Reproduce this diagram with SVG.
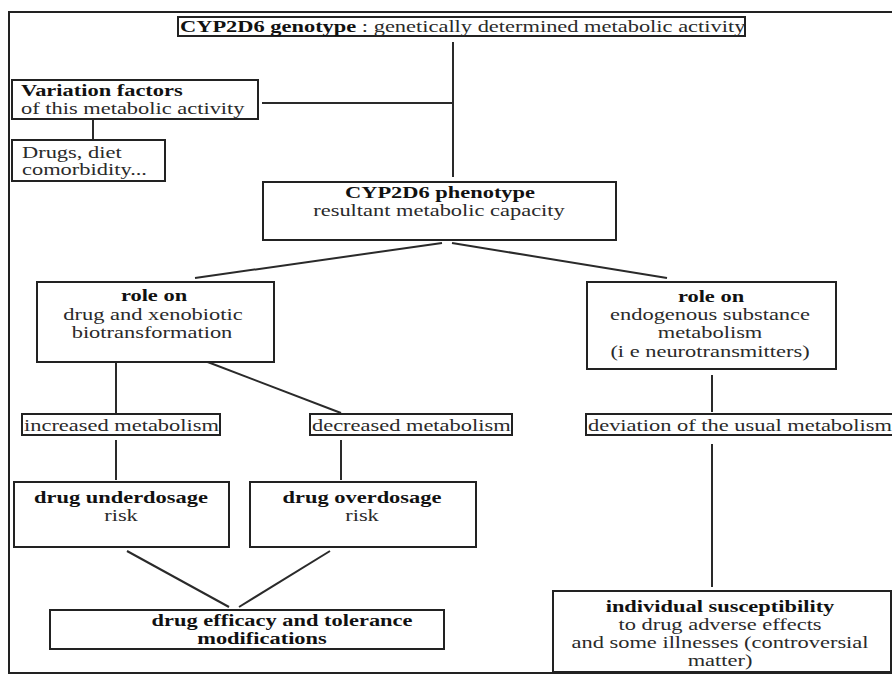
<svg xmlns="http://www.w3.org/2000/svg" width="892" height="675" viewBox="0 0 892 675">
<style>
.box{fill:#fff;stroke:#222;stroke-width:2}
.frame{fill:none;stroke:#222;stroke-width:2}
.ln{stroke:#2a2a2a;stroke-width:2;fill:none}
text{font-family:"Liberation Serif","Times New Roman",serif;font-size:17px;fill:#2a2a2a}
.b{font-weight:bold;fill:#111}
.m{text-anchor:middle}
</style>
<rect width="892" height="675" fill="#fff"/>
<path class="frame" d="M900,12 H9 V673 H900"/>
<g id="connectors">
<line class="ln" x1="453" y1="42" x2="453" y2="177"/>
<line class="ln" x1="262" y1="103" x2="453" y2="103"/>
<line class="ln" x1="93" y1="119" x2="93" y2="140"/>
<line class="ln" x1="442" y1="243" x2="195" y2="278"/>
<line class="ln" x1="452" y1="243" x2="667" y2="278"/>
<line class="ln" x1="116" y1="362" x2="116" y2="413"/>
<line class="ln" x1="205" y1="361" x2="341" y2="413"/>
<line class="ln" x1="712" y1="375" x2="712" y2="412"/>
<line class="ln" x1="116" y1="440" x2="116" y2="480"/>
<line class="ln" x1="341" y1="440" x2="341" y2="480"/>
<line class="ln" x1="712" y1="444" x2="712" y2="587"/>
<line class="ln" x1="127" y1="551" x2="229" y2="607"/>
<line class="ln" x1="330" y1="551" x2="239" y2="607"/>
</g>
<g id="genotype">
<rect class="box" x="178" y="17" width="567" height="19"/>
<text transform="translate(180,32) scale(1.32,1)"><tspan class="b">CYP2D6 genotype</tspan> : genetically determined metabolic activity</text>
</g>
<g id="variation">
<rect class="box" x="12" y="80" width="246" height="39"/>
<text class="b" transform="translate(21,96) scale(1.32,1)">Variation factors</text>
<text transform="translate(21,114) scale(1.32,1)">of this metabolic activity</text>
</g>
<g id="drugs">
<rect class="box" x="12" y="140" width="153" height="41"/>
<text transform="translate(22,158) scale(1.32,1)">Drugs, diet</text>
<text transform="translate(22,175) scale(1.32,1)">comorbidity...</text>
</g>
<g id="phenotype">
<rect class="box" x="263" y="182" width="353" height="58"/>
<text class="b m" transform="translate(440,198) scale(1.32,1)">CYP2D6 phenotype</text>
<text class="m" transform="translate(439,216) scale(1.32,1)">resultant metabolic capacity</text>
</g>
<g id="role-drug">
<rect class="box" x="37" y="282" width="237" height="80"/>
<text class="b m" transform="translate(154,301) scale(1.32,1)">role on</text>
<text class="m" transform="translate(153,320) scale(1.32,1)">drug and xenobiotic</text>
<text class="m" transform="translate(152,338) scale(1.32,1)">biotransformation</text>
</g>
<g id="role-endogenous">
<rect class="box" x="587" y="282" width="249" height="87"/>
<text class="b m" transform="translate(711,302) scale(1.32,1)">role on</text>
<text class="m" transform="translate(710,320) scale(1.32,1)">endogenous substance</text>
<text class="m" transform="translate(710,338) scale(1.32,1)">metabolism</text>
<text class="m" transform="translate(710,357) scale(1.32,1)">(i e neurotransmitters)</text>
</g>
<g id="increased">
<rect class="box" x="22" y="414" width="198" height="21"/>
<text transform="translate(24,431) scale(1.32,1)">increased metabolism</text>
</g>
<g id="decreased">
<rect class="box" x="310" y="414" width="202" height="21"/>
<text transform="translate(312,431) scale(1.32,1)">decreased metabolism</text>
</g>
<g id="deviation">
<rect class="box" x="586" y="414" width="320" height="21"/>
<text transform="translate(588,431) scale(1.32,1)">deviation of the usual metabolism</text>
</g>
<g id="underdosage">
<rect class="box" x="14" y="482" width="215" height="65"/>
<text class="b m" transform="translate(121,503) scale(1.32,1)">drug underdosage</text>
<text class="m" transform="translate(121,521) scale(1.32,1)">risk</text>
</g>
<g id="overdosage">
<rect class="box" x="250" y="482" width="226" height="65"/>
<text class="b m" transform="translate(362,503) scale(1.32,1)">drug overdosage</text>
<text class="m" transform="translate(362,521) scale(1.32,1)">risk</text>
</g>
<g id="efficacy">
<rect class="box" x="50" y="610" width="394" height="39"/>
<text class="b m" transform="translate(282,626) scale(1.32,1)">drug efficacy and tolerance</text>
<text class="b m" transform="translate(262,644) scale(1.32,1)">modifications</text>
</g>
<g id="susceptibility">
<rect class="box" x="553" y="591" width="338" height="81"/>
<text class="b m" transform="translate(720,612) scale(1.32,1)">individual susceptibility</text>
<text class="m" transform="translate(720,630) scale(1.32,1)">to drug adverse effects</text>
<text class="m" transform="translate(720,648) scale(1.32,1)">and some illnesses (controversial</text>
<text class="m" transform="translate(720,666) scale(1.32,1)">matter)</text>
</g>
</svg>
